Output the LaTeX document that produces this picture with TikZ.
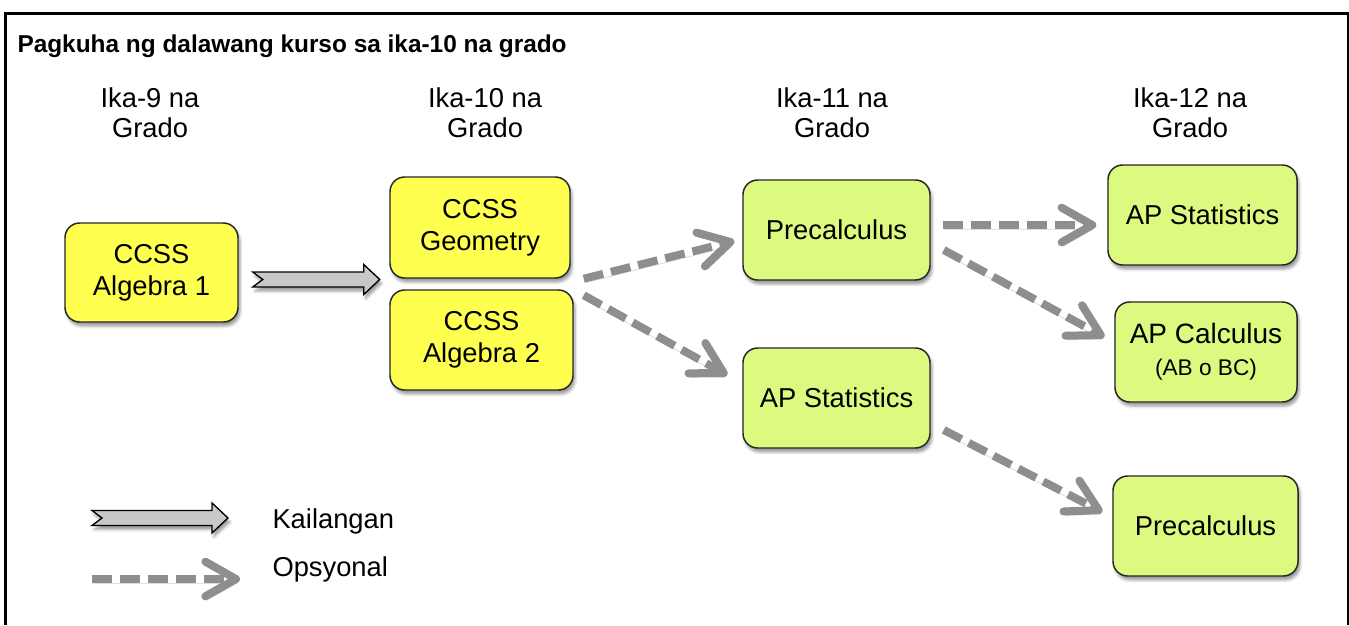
\documentclass[tikz,border=0pt]{standalone}
\usepackage{fontspec}
\setmainfont{Liberation Sans}
\usetikzlibrary{arrows.meta,calc,shadows.blur}

\definecolor{ccssyellow}{RGB}{255,255,80}
\definecolor{aplime}{RGB}{221,250,128}
\definecolor{optgray}{RGB}{142,142,142}
\definecolor{reqgray}{RGB}{200,200,200}

\tikzset{every picture/.style={line width=0.75pt}}
\def \boxH {75pt}
\def \shaftH {7.5}
\def \headH {15}
\def \headL {16}
\def \tailN {10}

\tikzset{
	course/.style={draw=black!85, line width=1.1pt, rounded corners=11pt, align=center, inner sep=0pt,
		minimum height=\boxH, font=\fontsize{20.5}{24}\selectfont,
		blur shadow={shadow xshift=1.5pt, shadow yshift=-3pt}},
	ccss/.style={course, fill=ccssyellow},
	ap/.style={course, fill=aplime},
	gradehdr/.style={align=center, inner sep=0pt, font=\fontsize{20.5}{22.5}\selectfont},
	legendtxt/.style={anchor=west, inner sep=0pt, font=\fontsize{20.5}{22.5}\selectfont},
	reqshape/.style={draw=black, fill=reqgray, line width=1pt, line join=miter,
		blur shadow={shadow xshift=1.5pt, shadow yshift=-3pt}},
	optarrow/.style={draw=optgray, line width=6pt, dash pattern=on 15pt off 6pt,
		-{Straight Barb[length=23pt, width=26pt, round]},
		preaction={draw=black!12, transform canvas={shift={(1pt,-3pt)}}}}
}

% block arrow with notched tail, #1 = tail, #2 = tip (same height)
\newcommand{\reqarrow}[2]{%
	\draw[reqshape] ($(#1)+(0,-\shaftH)$) -- ($(#2)+(-\headL,-\shaftH)$) -- ($(#2)+(-\headL,-\headH)$) -- (#2)
		-- ($(#2)+(-\headL,\headH)$) -- ($(#2)+(-\headL,\shaftH)$) -- ($(#1)+(0,\shaftH)$) -- ($(#1)+(\tailN,0)$) -- cycle ;}

\begin{document}
\begin{tikzpicture}[x=0.75pt,y=0.75pt,yscale=-1,xscale=1]

	\useasboundingbox (0,0) rectangle (1349,625);

	%Frame
	\draw [line width=2pt] (5.3,625) -- (5.3,13.3) ;
	\draw [line width=2.6pt] (4,13.3) -- (1349,13.3) ;
	\draw [line width=1.1pt] (1347.8,13.3) -- (1347.8,625) ;

	% Text Node
	\node [anchor=base west, inner sep=0pt, font=\bfseries\fontsize{18.3}{21}\selectfont] (title) at (17,52) {Pagkuha ng dalawang kurso sa ika-10 na grado};

	% Text Node
	\node [gradehdr] (hdr9) at (150,112.5) {Ika-9 na\\Grado};
	\node [gradehdr] (hdr10) at (485,112.5) {Ika-10 na\\Grado};
	\node [gradehdr] (hdr11) at (832,112.5) {Ika-11 na\\Grado};
	\node [gradehdr] (hdr12) at (1190,112.5) {Ika-12 na\\Grado};

	%Rounded Rect
	\node [ccss, minimum width=129.75pt, minimum height=74.25pt] (alg1) at (151.5,272.5) {CCSS\\Algebra 1};
	\node [ccss, minimum width=135pt, minimum height=75.75pt] (geo) at (480,227.5) {CCSS\\Geometry};
	\node [ccss, minimum width=137.25pt] (alg2) at (481.5,340) {CCSS\\Algebra 2};

	\node [ap, minimum width=140.25pt] (pre11) at (836.5,230) {Precalculus};
	\node [ap, minimum width=140.25pt] (stat11) at (836.5,398) {AP Statistics};

	\node [ap, minimum width=141.75pt] (stat12) at (1202.5,215) {AP Statistics};
	\node [ap, minimum width=136.5pt] (calc12) at (1206,352) {\fontsize{21}{25}\selectfont AP Calculus\\\fontsize{17}{19}\selectfont (AB o BC)};
	\node [ap, minimum width=138.75pt] (pre12) at (1205.5,526) {Precalculus};

	%Required arrow
	\coordinate (reqA) at ($(alg1.east)+(14,7)$) ;
	\coordinate (reqB) at ($(reqA)+(127,0)$) ;
	\reqarrow{reqA}{reqB}

	%Optional arrows
	\draw [optarrow] ($(geo.south east)+(13,0)$) -- ($(pre11.west)+(-8,11)$) ;
	\draw [optarrow] ($(alg2.north east)+(10,6)$) -- ($(stat11.west)+(-15,-23)$) ;
	\draw [optarrow] ($(pre11.east)+(12,-5)$) -- ($(stat12.west)+(-11,10)$) ;
	\draw [optarrow] ($(pre11.east)+(13,20)$) -- ($(calc12.west)+(-10,-15)$) ;
	\draw [optarrow] ($(stat11.east)+(13,32)$) -- ($(pre12.west)+(-10,-14)$) ;

	%Legend
	\node [legendtxt] (reqlbl) at (272,521) {Kailangan};
	\node [legendtxt] (optlbl) at (272,569) {Opsyonal};
	\coordinate (legReqA) at ($(reqlbl.west)+(-180,-3)$) ;
	\coordinate (legReqB) at ($(reqlbl.west)+(-44,-3)$) ;
	\reqarrow{legReqA}{legReqB}
	\coordinate (legOptA) at ($(optlbl.west)+(-180,10)$) ;
	\coordinate (legOptB) at ($(optlbl.west)+(-32,10)$) ;
	\draw [optarrow] (legOptA) -- (legOptB) ;

\end{tikzpicture}
\end{document}
